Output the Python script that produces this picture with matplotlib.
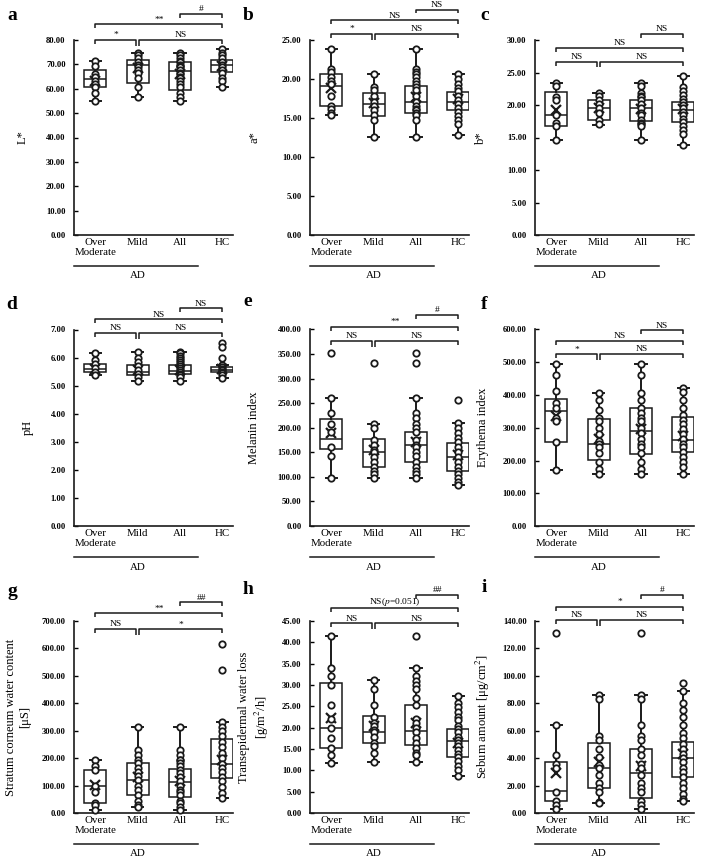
import matplotlib
matplotlib.use("Agg")
import matplotlib.pyplot as plt

plt.rcParams['font.family'] = ['Liberation Serif', 'DejaVu Serif']
plt.rcParams['mathtext.fontset'] = 'stix'

groups = ['Over\nModerate', 'Mild', 'All', 'HC']

# box stats per group: whisker low, q1, median, q3, whisker high, mean
lstar_box = [[55.1, 60.6, 64.0, 67.7, 71.5, 63.2], [56.8, 62.2, 69.7, 71.8, 74.8, 68.4],
             [55.1, 59.5, 67.4, 71.1, 74.8, 66.1], [60.6, 67.0, 69.7, 71.8, 76.5, 69.3]]
lstar_pts = [[71.5, 69.4, 66.1, 64.7, 63.2, 62.0, 60.6, 58.4, 55.1],
             [74.8, 73.8, 72.5, 71.1, 69.7, 69.1, 67.7, 66.3, 64.3, 60.6, 56.8],
             [74.8, 73.8, 72.5, 71.5, 71.1, 69.7, 69.4, 69.1, 67.7, 66.3, 66.1, 64.7, 64.3, 63.2, 62.0, 60.6, 58.4, 56.8, 55.1],
             [76.5, 74.8, 73.8, 72.5, 71.1, 69.7, 69.1, 67.7, 66.3, 64.3, 63.0, 60.6]]

astar_box = [[15.4, 16.5, 19.1, 20.6, 23.9, 18.8], [12.6, 15.3, 16.8, 18.2, 20.6, 16.9],
             [12.6, 15.6, 17.0, 19.1, 23.9, 17.7], [12.8, 16.0, 17.0, 18.3, 20.6, 17.4]]
astar_pts = [[23.9, 21.3, 20.9, 20.3, 19.8, 19.3, 17.8, 16.5, 16.1, 15.6, 15.4],
             [20.6, 19.0, 18.6, 17.8, 17.0, 16.5, 16.0, 15.4, 14.8, 12.6],
             [23.9, 21.3, 20.9, 20.6, 20.3, 19.8, 19.3, 19.0, 18.6, 17.8, 17.0, 16.5, 16.1, 16.0, 15.6, 15.4, 14.8, 12.6],
             [20.6, 20.0, 19.4, 18.9, 18.4, 17.8, 17.3, 16.8, 16.3, 15.8, 15.3, 14.8, 14.2, 12.8]]

bstar_box = [[14.6, 16.8, 18.4, 22.0, 23.4, 19.2], [17.0, 17.7, 19.5, 20.7, 21.9, 19.5],
             [14.6, 17.5, 19.5, 20.8, 23.4, 19.4], [13.9, 17.4, 19.2, 20.4, 24.5, 19.4]]
bstar_pts = [[23.4, 23.0, 21.3, 20.7, 18.5, 17.3, 16.8, 14.6],
             [21.9, 21.4, 20.7, 20.2, 19.5, 18.7, 17.7, 17.1],
             [23.4, 23.0, 21.9, 21.4, 21.3, 20.7, 20.2, 19.5, 18.7, 18.5, 17.7, 17.3, 17.1, 16.8, 14.6],
             [24.5, 22.7, 22.2, 21.6, 21.0, 20.5, 20.0, 19.5, 19.0, 18.4, 17.9, 17.4, 16.8, 16.2, 15.6, 13.9]]

ph_box = [[5.37, 5.50, 5.60, 5.77, 6.15, 5.61], [5.15, 5.37, 5.49, 5.73, 6.20, 5.55],
          [5.15, 5.40, 5.52, 5.73, 6.20, 5.56], [5.27, 5.49, 5.55, 5.65, 5.72, 5.58]]
ph_pts = [[6.15, 5.90, 5.77, 5.62, 5.50, 5.37],
          [6.20, 5.98, 5.85, 5.70, 5.55, 5.42, 5.30, 5.15],
          [6.20, 6.15, 6.05, 5.98, 5.90, 5.85, 5.77, 5.70, 5.62, 5.55, 5.50, 5.42, 5.37, 5.30, 5.15],
          [6.53, 6.36, 5.99, 5.72, 5.65, 5.60, 5.55, 5.50, 5.45, 5.38, 5.27]]

melanin_box = [[97, 157, 178, 218, 260, 190], [98, 120, 150, 177, 208, 155],
               [97, 130, 165, 191, 260, 170], [83, 112, 140, 168, 210, 145]]
melanin_pts = [[352, 260, 230, 208, 192, 160, 143, 97],
               [332, 208, 200, 175, 165, 155, 150, 140, 130, 120, 112, 105, 98],
               [352, 332, 260, 230, 220, 208, 200, 192, 175, 165, 160, 150, 143, 130, 120, 112, 105, 97],
               [257, 210, 200, 190, 180, 170, 160, 150, 140, 130, 120, 112, 105, 97, 90, 83]]

erythema_box = [[172, 258, 352, 388, 495, 335], [160, 203, 250, 328, 405, 265],
                [160, 220, 290, 360, 495, 295], [160, 225, 262, 332, 420, 275]]
erythema_pts = [[495, 460, 412, 375, 360, 330, 320, 255, 172],
                [405, 385, 355, 330, 320, 300, 280, 260, 250, 240, 222, 195, 175, 160],
                [495, 460, 405, 385, 360, 345, 330, 320, 300, 285, 265, 250, 240, 222, 195, 175, 160],
                [420, 410, 385, 360, 340, 325, 310, 295, 280, 265, 250, 240, 225, 210, 195, 180, 160]]

water_box = [[12, 38, 97, 157, 192, 103], [22, 66, 120, 183, 315, 130],
             [12, 57, 112, 162, 315, 118], [53, 128, 180, 270, 330, 195]]
water_pts = [[192, 172, 155, 100, 78, 38, 30, 12],
             [315, 230, 210, 195, 183, 165, 150, 135, 120, 100, 85, 66, 45, 30, 22],
             [315, 230, 210, 195, 192, 183, 172, 155, 145, 130, 115, 100, 85, 78, 66, 45, 38, 22, 12],
             [615, 523, 330, 315, 300, 280, 260, 240, 220, 200, 180, 165, 150, 130, 115, 95, 72, 55]]

tewl_box = [[11.8, 15.2, 20.0, 30.5, 41.5, 22.3], [12.0, 16.4, 19.0, 22.8, 31.2, 20.3],
            [12.0, 16.0, 19.3, 25.4, 34.0, 21.0], [8.7, 13.1, 16.8, 19.7, 27.4, 16.5]]
tewl_pts = [[41.5, 34.0, 32.0, 30.0, 25.2, 22.0, 20.0, 17.6, 15.2, 13.7, 11.8],
            [31.2, 29.0, 25.3, 22.5, 21.2, 20.5, 19.5, 19.0, 17.7, 16.4, 15.8, 14.0, 12.0],
            [41.5, 34.0, 32.0, 31.0, 30.0, 29.0, 27.0, 25.3, 22.0, 21.0, 20.0, 19.0, 17.6, 16.5, 15.2, 14.0, 13.5, 12.0],
            [27.4, 25.8, 24.9, 23.6, 22.5, 21.8, 20.4, 19.6, 18.9, 17.9, 17.2, 16.4, 15.6, 14.8, 13.9, 13.1, 12.2, 11.0, 10.1, 8.7]]

sebum_box = [[3, 9, 16, 37, 64, 29], [7, 18, 33, 51, 86, 37],
             [3, 11, 29, 47, 86, 34], [9, 26, 40, 52, 89, 43]]
sebum_pts = [[131, 64, 42, 36, 33, 15, 9, 6, 3],
             [86, 83, 56, 53, 47, 41, 35, 33, 28, 22, 18, 15, 8, 7],
             [131, 86, 83, 64, 56, 53, 47, 42, 36, 33, 28, 22, 18, 15, 9, 6, 3],
             [95, 89, 80, 75, 70, 64, 58, 55, 50, 47, 43, 40, 37, 33, 30, 26, 22, 18, 14, 10, 9]]

ylabels = ['L*', 'a*', 'b*', 'pH', 'Melanin index', 'Erythema index',
           'Stratum corneum water content\n[μS]', 'Transepidermal water loss\n[g/m$^2$/h]',
           'Sebum amount [μg/cm$^2$]']
yranges = [(80, 10), (25, 5), (30, 5), (7, 1), (400, 50), (600, 100), (700, 100), (45, 5), (140, 20)]
sig_lower = [('*', 'NS'), ('*', 'NS'), ('NS', 'NS'), ('NS', 'NS'), ('NS', 'NS'), ('*', 'NS'),
             ('NS', '*'), ('NS', 'NS'), ('NS', 'NS')]
sig_mid = ['**', 'NS', 'NS', 'NS', '**', 'NS', '**', 'NS($\\it{p}$=0.051)', '*']
sig_top = ['#', 'NS', 'NS', 'NS', '#', 'NS', '##', '##', '#']
letters = list('abcdefghi')

boxes = [lstar_box, astar_box, bstar_box, ph_box, melanin_box, erythema_box, water_box, tewl_box, sebum_box]
points = [lstar_pts, astar_pts, bstar_pts, ph_pts, melanin_pts, erythema_pts, water_pts, tewl_pts, sebum_pts]

W, H = 709, 859
fig = plt.figure(figsize=(W / 100, H / 100), dpi=100)

col_left = [74, 310, 535]
row_top = [40, 329.5, 621]
row_bot = [235, 526, 813]
ax_w = 159
# bracket heights (axes fraction): lower, middle, top
bracket_y = [[1.0, 1.081, 1.133], [1.031, 1.10, 1.156], [0.889, 0.96, 1.031],
             [0.983, 1.051, 1.107], [0.942, 1.013, 1.073], [0.874, 0.942, 0.996],
             [0.957, 1.040, 1.097], [0.988, 1.066, 1.135], [1.005, 1.074, 1.135]]
letter_pos = [(12, 16), (248, 16), (485, 16), (12, 304), (248, 302), (484, 304),
              (12, 592), (248, 590), (484, 588)]
# y-label centre (axes fraction)
ylabel_x = [-0.32, -0.35, -0.34, -0.29, -0.35, -0.33, -0.35, -0.35, -0.33]

ink = '#1a1a1a'


def bracket(ax, x1, x2, y, label, drop_l=0.02, drop_r=0.02):
    tr = ax.get_xaxis_transform()
    ax.plot([x1, x1, x2, x2], [y - drop_l, y, y, y - drop_r], color=ink, lw=1.1,
            transform=tr, clip_on=False, solid_capstyle='butt')
    ax.text((x1 + x2) / 2, y + 0.004, label, transform=tr, ha='center', va='bottom', fontsize=6.8)


for i in range(9):
    r, c = divmod(i, 3)
    hpx = row_bot[r] - row_top[r]
    ax = fig.add_axes([col_left[c] / W, 1 - row_bot[r] / H, ax_w / W, hpx / H])
    stats = []
    for b in boxes[i]:
        stats.append(dict(whislo=b[0], q1=b[1], med=b[2], q3=b[3], whishi=b[4], mean=b[5], fliers=[]))
    ax.bxp(stats, positions=[0, 1, 2, 3], widths=0.52, showmeans=True, showfliers=False,
           patch_artist=True,
           boxprops=dict(facecolor='white', edgecolor=ink, lw=1.1),
           medianprops=dict(color=ink, lw=1.1),
           whiskerprops=dict(color=ink, lw=1.4),
           capprops=dict(color=ink, lw=1.4),
           meanprops=dict(marker='x', markeredgecolor=ink, markersize=7.5, markeredgewidth=1.6),
           zorder=2)
    for g, vals in enumerate(points[i]):
        ax.plot([g] * len(vals), vals, 'o', ms=4.6, mfc='white', mec=ink, mew=1.3, zorder=3,
                clip_on=False)
    ymax, step = yranges[i]
    ax.set_ylim(0, ymax)
    ax.set_xlim(-0.5, 3.25)
    ax.set_yticks([k * step for k in range(int(round(ymax / step)) + 1)])
    ax.set_yticklabels(['%.2f' % (k * step) for k in range(int(round(ymax / step)) + 1)],
                       fontsize=6.2, fontweight='bold')
    ax.tick_params(axis='y', direction='in', length=3, width=1, pad=6)
    ax.set_xticks([0, 1, 2, 3])
    ax.set_xticklabels(groups, fontsize=7.8)
    ax.tick_params(axis='x', length=0, pad=2)
    for s in ['top', 'right']:
        ax.spines[s].set_visible(False)
    for s in ['left', 'bottom']:
        ax.spines[s].set_linewidth(1.2)
        ax.spines[s].set_color(ink)
    ax.set_ylabel(ylabels[i], fontsize=9, va='center', ha='center', multialignment='center')
    ax.yaxis.set_label_coords(ylabel_x[i], 0.5)

    tr = ax.get_xaxis_transform()
    ax.plot([-0.5, 2.42], [-31 / hpx] * 2, color=ink, lw=1.1, transform=tr, clip_on=False)
    ax.text(1.0, -41 / hpx, 'AD', transform=tr, ha='center', va='center', fontsize=7.8)

    lo, mid, top = bracket_y[i]
    bracket(ax, 0, 0.97, lo, sig_lower[i][0], drop_r=0.03)
    bracket(ax, 1.03, 3, lo, sig_lower[i][1], drop_l=0.03)
    bracket(ax, 0, 3, mid, sig_mid[i])
    bracket(ax, 2, 3, top, sig_top[i])

    lx, ly = letter_pos[i]
    fig.text(lx / W, 1 - ly / H, letters[i], fontsize=14, fontweight='bold', ha='center', va='center')

fig.savefig('out.png', dpi=100)
